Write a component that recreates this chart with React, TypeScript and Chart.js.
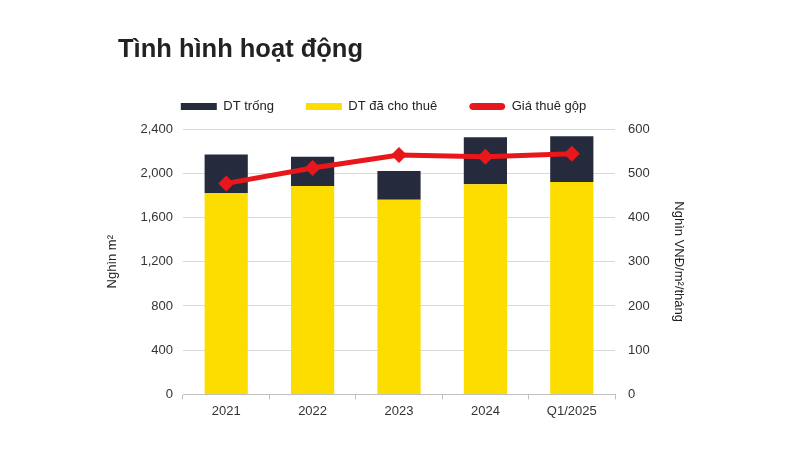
import React, { useEffect, useRef } from "react";
import { Chart, registerables } from "chart.js";

Chart.register(...registerables);

const categories = ["2021", "2022", "2023", "2024", "Q1/2025"];
const leased = [1820, 1885, 1760, 1900, 1920];
const vacant = [350, 265, 260, 425, 415];
const grossRent = [477, 512, 541, 537, 544];
const titleText = "Tình hình hoạt động";
const leftAxisTitle = "Nghìn m²";
const rightAxisTitle = "Nghìn VNĐ/m²/tháng";

const FONT = "'Liberation Sans', Arial, sans-serif";
const YELLOW = "#fddc00";
const NAVY = "#262a3d";
const RED = "#e8171b";

export default function App() {
  const ref = useRef<HTMLCanvasElement | null>(null);

  useEffect(() => {
    if (!ref.current) return;
    const titlePlugin = {
      id: "customTitle",
      afterDraw(chart: any) {
        const ctx = chart.ctx;
        ctx.save();
        ctx.font = `bold 25.5px ${FONT}`;
        ctx.fillStyle = "#222";
        ctx.textAlign = "left";
        ctx.textBaseline = "alphabetic";
        ctx.fillText(titleText, 118, 57);
        ctx.restore();
      },
    };
    const legendTweak = {
      id: "legendTweak",
      beforeInit(chart: any) {
        const lg = chart.legend;
        if (!lg) return;
        const orig = lg.fit;
        lg.fit = function () {
          orig.call(this);
          this.height += 6;
        };
      },
      afterLayout(chart: any) {
        const lg = chart.legend;
        if (!lg) return;
        lg.left -= 12;
        lg.right -= 12;
      },
    };
    const defaultLabels = Chart.defaults.plugins.legend.labels.generateLabels;
    const chart = new Chart(ref.current, {
      type: "bar",
      data: {
        labels: categories,
        datasets: [
          {
            label: "DT đã cho thuê",
            data: leased,
            backgroundColor: YELLOW,
            borderWidth: 0,
            yAxisID: "y",
            order: 1,
          },
          {
            label: "DT trống",
            data: vacant,
            backgroundColor: NAVY,
            borderWidth: 0,
            yAxisID: "y",
            order: 1,
          },
          {
            type: "line",
            label: "Giá thuê gộp",
            data: grossRent,
            borderColor: RED,
            backgroundColor: RED,
            borderWidth: 5,
            pointStyle: "rectRot",
            pointRadius: 8,
            pointBackgroundColor: RED,
            pointBorderColor: RED,
            pointBorderWidth: 0,
            yAxisID: "y1",
            order: 0,
          } as any,
        ],
      },
      options: {
        responsive: false,
        animation: false,
        layout: { padding: { left: 101, right: 110, top: 68, bottom: 27 } },
        plugins: {
          title: { display: false },
          tooltip: { enabled: false },
          legend: {
            position: "top",
            labels: {
              boxWidth: 36,
              boxHeight: 7,
              padding: 32,
              useBorderRadius: true,
              color: "#222",
              font: { family: FONT, size: 13 },
              generateLabels: (c: any) =>
                defaultLabels(c).map((it: any) => ({
                  ...it,
                  lineWidth: 0,
                  borderRadius: it.datasetIndex === 2 ? 4 : 0,
                })),
              sort: (a: any, b: any) => {
                const rank = [1, 0, 2];
                return rank[a.datasetIndex] - rank[b.datasetIndex];
              },
            },
          },
        },
        datasets: { bar: { barPercentage: 0.5, categoryPercentage: 1 } },
        scales: {
          x: {
            stacked: true,
            grid: {
              offset: true,
              drawOnChartArea: false,
              drawTicks: true,
              tickLength: 5,
              color: "#bfbfbf",
            },
            border: { display: true, color: "#bfbfbf" },
            ticks: { color: "#333", padding: 4, font: { family: FONT, size: 13 } },
          },
          y: {
            stacked: true,
            position: "left",
            min: 0,
            max: 2400,
            afterFit: (s: any) => { s.width = 82; },
            ticks: {
              stepSize: 400,
              padding: 10,
              color: "#333",
              font: { family: FONT, size: 13 },
              callback: (v: any) => Number(v).toLocaleString("en-US"),
            },
            grid: { color: "#d9d9d9", drawTicks: false },
            border: { display: false },
            title: {
              display: true,
              text: leftAxisTitle,
              color: "#222",
              font: { family: FONT, size: 13 },
            },
          },
          y1: {
            position: "right",
            min: 0,
            max: 600,
            afterFit: (s: any) => { s.width = 75; },
            ticks: {
              stepSize: 100,
              padding: 13,
              color: "#333",
              font: { family: FONT, size: 13 },
            },
            grid: { drawOnChartArea: false, drawTicks: false },
            border: { display: false },
            title: {
              display: true,
              text: rightAxisTitle,
              color: "#222",
              font: { family: FONT, size: 13 },
            },
          },
        },
      },
      plugins: [titlePlugin, legendTweak],
    });
    return () => chart.destroy();
  }, []);

  return (
    <div style={{ position: "fixed", left: 0, top: 0, width: 800, height: 450, background: "#fff" }}>
      <canvas ref={ref} width={800} height={450} />
    </div>
  );
}
